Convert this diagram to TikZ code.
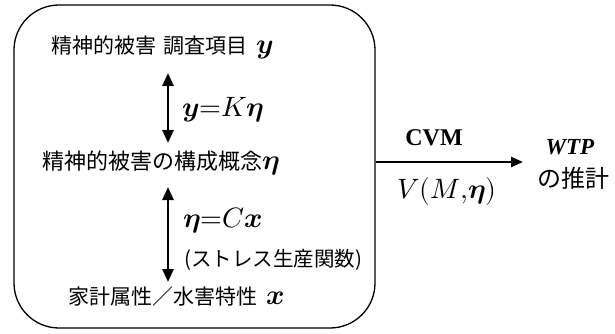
\documentclass[tikz,border=0pt]{standalone}
\usepackage{unicode-math}
\setmainfont{Liberation Serif}
\setmathfont{Latin Modern Math}
\newfontfamily\jp{Noto Sans CJK JP}
\newcommand{\jpsz}[1]{\jp\fontsize{#1}{#1}\selectfont}
\newcommand{\mth}[1]{{\fontsize{28}{30}\selectfont$#1$}}
\usetikzlibrary{arrows.meta}
\begin{document}
\begin{tikzpicture}[x=1pt,y=-1pt,
  txt/.style={inner sep=0pt, anchor=west},
  eqn/.style={txt, font=\fontsize{28}{32}\selectfont},
  frame/.style={draw, line width=1.3pt, rounded corners=45pt, inner sep=0pt},
  biarrow/.style={line width=2.6pt, {Triangle[length=13pt,width=11pt]}-{Triangle[length=13pt,width=11pt]}},
  fwarrow/.style={line width=2.4pt, -{Triangle[length=12pt,width=10pt]}}
]
\useasboundingbox (0,0) rectangle (615,334);
\node[frame, minimum width=361pt, minimum height=323pt] (box) at (194.5,166.5) {};

\node[txt] (l1) at (51,47) {\jpsz{21}精神的被害\hspace{7pt}調査項目\hspace{9pt}\mth{\symbfit{y}}};
\node[txt] (l2) at (42,163) {\jpsz{22}精神的被害の構成概念\mth{\symbfit{\eta}}};
\node[txt] (l3) at (68,297) {\jpsz{21}家計属性／水害特性\hspace{9pt}\mth{\symbfit{x}}};
\node[txt] (par) at (184,260) {\jpsz{20.5}(ストレス生産関数)};

\node[eqn] (e1) at (182,110) {$\symbfit{y}{=}K\symbfit{\eta}$};
\node[eqn] (e2) at (183,221) {$\symbfit{\eta}{=}C\symbfit{x}$};

\coordinate (a1t) at (168,73);
\coordinate (a1b) at (168,143);
\coordinate (a2t) at (168,187);
\coordinate (a2b) at (168,282);
\draw[biarrow] (a1t) -- (a1b);
\draw[biarrow] (a2t) -- (a2b);

\coordinate (hend) at (523,162);
\draw[fwarrow] (box.east |- hend) -- (hend);

\node[font=\bfseries\fontsize{24}{28}\selectfont, inner sep=0pt] (cvm) at (434,138) {CVM};
\node[font=\fontsize{28}{32}\selectfont, inner sep=0pt] (vm) at (447,191) {$V(M{,}\symbfit{\eta})$};
\node[font=\bfseries\itshape\fontsize{23}{26}\selectfont, inner sep=0pt] (wtp) at (570,147.5) {WTP};
\node[inner sep=0pt] (est) at (573,178) {\jpsz{24}の推計};
\end{tikzpicture}
\end{document}
